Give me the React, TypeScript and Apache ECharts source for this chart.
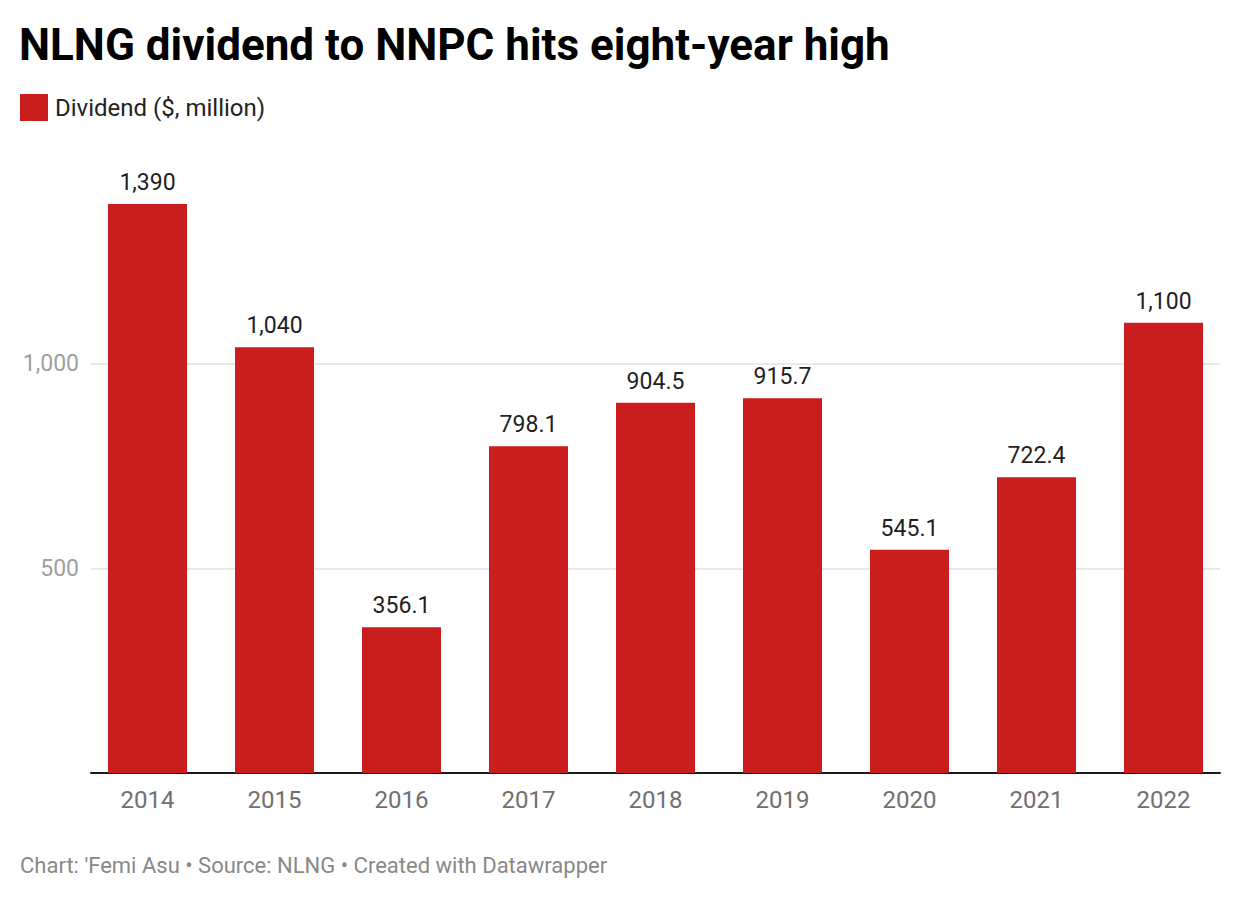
import React, { useEffect, useRef } from "react";
import * as echarts from "echarts";

const categories = ["2014", "2015", "2016", "2017", "2018", "2019", "2020", "2021", "2022"];
const dividend = [1390, 1040, 356.1, 798.1, 904.5, 915.7, 545.1, 722.4, 1100];
const yTicksShown = [500, 1000];

const FONT = "Roboto";

export default function App() {
  const ref = useRef<HTMLDivElement>(null);
  useEffect(() => {
    document.body.style.margin = "0";
    const chart = echarts.init(ref.current!, undefined, { renderer: "svg" });
    const fmt = (v: number) => v.toLocaleString("en-US");
    chart.setOption({
      animation: false,
      backgroundColor: "#ffffff",
      textStyle: { fontFamily: FONT },
      title: {
        text: "NLNG dividend to NNPC hits eight-year high",
        left: 14,
        top: 18,
        textStyle: { fontFamily: FONT, fontSize: 44, fontWeight: "bold", color: "#000" },
      },
      legend: {
        left: 15,
        top: 89,
        itemWidth: 28,
        itemHeight: 27,
        icon: "rect",
        data: ["Dividend ($, million)"],
        textStyle: { fontFamily: FONT, fontSize: 24, color: "#222", padding: [0, 0, 0, 2] },
      },
      grid: [
        { left: 91, right: 20, top: 159, bottom: 127 },
        { left: 84, right: 13, top: 159, bottom: 127 },
      ],
      xAxis: [
        {
          gridIndex: 0,
          type: "category",
          data: categories,
          axisLine: { show: true, lineStyle: { color: "#1a1a1a", width: 2 } },
          axisTick: { show: false },
          axisLabel: { show: false },
        },
        {
          gridIndex: 1,
          type: "category",
          data: categories,
          axisLine: { show: false },
          axisTick: { show: false },
          axisLabel: { fontFamily: FONT, fontSize: 24, color: "#707070", margin: 15 },
        },
      ],
      yAxis: [
        {
          gridIndex: 0,
          type: "value",
          min: 0,
          max: 1500,
          interval: 500,
          axisLine: { show: false },
          axisTick: { show: false },
          axisLabel: {
            fontFamily: FONT,
            fontSize: 23,
            color: "#a0a0a0",
            margin: 12,
            formatter: (v: number) => (yTicksShown.includes(v) ? fmt(v) : ""),
          },
          splitLine: {
            show: true,
            showMinLine: false,
            showMaxLine: false,
            lineStyle: { color: "#e2e2e2", width: 1.5 },
          },
        },
        {
          gridIndex: 1,
          type: "value",
          min: 0,
          max: 1500,
          interval: 500,
          show: false,
          splitLine: { show: false },
        },
      ],
      series: [
        {
          name: "Dividend ($, million)",
          type: "bar",
          xAxisIndex: 1,
          yAxisIndex: 1,
          data: dividend,
          barWidth: 79,
          itemStyle: { color: "#c91d1e" },
          label: {
            show: true,
            position: "top",
            distance: 10,
            fontFamily: FONT,
            fontSize: 23,
            color: "#1f1f1f",
            formatter: (p: any) => fmt(p.value),
          },
          z: 5,
        },
      ],
      graphic: [
        {
          type: "text",
          left: 20,
          top: 854,
          style: {
            text: "Chart: 'Femi Asu • Source: NLNG • Created with Datawrapper",
            fontFamily: FONT,
            fontSize: 22,
            fill: "#888888",
          },
        },
      ],
    });
    return () => chart.dispose();
  }, []);
  return <div ref={ref} style={{ width: 1240, height: 900 }} />;
}
